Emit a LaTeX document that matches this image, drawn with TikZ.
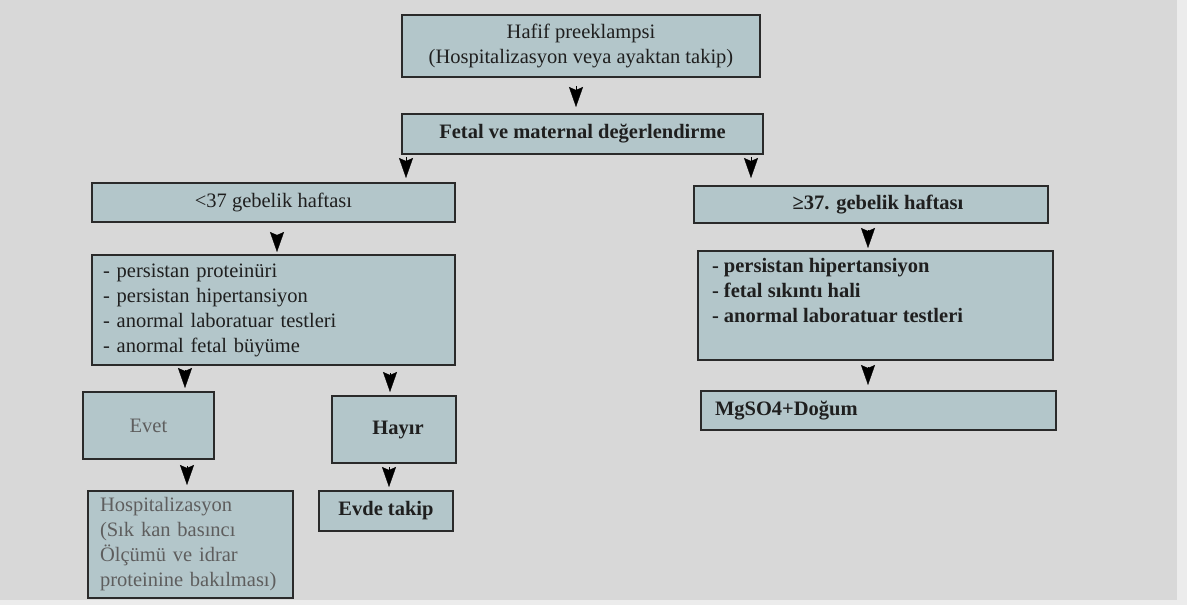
\documentclass[tikz,border=0pt]{standalone}
\usepackage{fontspec}
\setmainfont{Liberation Serif}
\usetikzlibrary{arrows.meta}
\definecolor{bg}{HTML}{D8D8D8}
\definecolor{edge}{HTML}{ECECEC}
\definecolor{boxfill}{HTML}{B3C6CA}
\definecolor{boxline}{HTML}{2A2A2A}
\definecolor{txt}{HTML}{1F1F1F}
\definecolor{softtxt}{HTML}{5E5E5E}
\begin{document}
\begin{tikzpicture}[x=1pt,y=-1pt,
  box/.style={draw=boxline, line width=1.8pt, fill=boxfill, inner sep=0pt, outer sep=0pt,
    text=txt, font=\fontsize{20.5}{25}\selectfont, anchor=north west, align=center},
  boldbox/.style={box, font=\fontsize{20.5}{25}\selectfont\bfseries},
  softbox/.style={box, text=softtxt},
  ah/.style={-{Stealth[length=20pt,width=14pt,inset=3pt]}, line width=0.3pt, draw=black, fill=black}]
\useasboundingbox (0,0) rectangle (1187,605);
\fill[edge] (0,0) rectangle (1187,605);
\fill[bg] (0,0) rectangle (1177,600);

% boxes
\node[box, minimum width=358pt, minimum height=62pt] (b1) at (402,15)
  {Hafif preeklampsi\\(Hospitalizasyon veya ayaktan takip)};
\node[boldbox, minimum width=361pt, minimum height=40pt] (b2) at (402,114)
  {Fetal ve maternal değerlendirme};
\node[box, minimum width=363pt, minimum height=39pt] (lt) at (92,183)
  {<37 gebelik haftası};
\node[boldbox, minimum width=354pt, minimum height=37pt] (rt) at (694,186)
  {\hspace*{14pt}≥37. gebelik haftası};
\node[box, minimum width=363pt, minimum height=110pt, text width=341pt, align=left] (ll) at (92,255)
  {- persistan proteinüri\\- persistan hipertansiyon\\- anormal laboratuar testleri\\- anormal fetal büyüme};
\node[boldbox, minimum width=355pt, minimum height=109pt, align=left] (rl) at (698,251)
  {\parbox[c][94pt][t]{327pt}{- persistan hipertansiyon\\- fetal sıkıntı hali\\- anormal laboratuar testleri}};
\node[boldbox, minimum width=355pt, minimum height=39pt, text width=327pt, align=left] (mg) at (701,391)
  {MgSO4+Doğum};
\node[softbox, minimum width=131pt, minimum height=67pt] (evet) at (83,392) {Evet};
\node[boldbox, minimum width=124pt, minimum height=67pt] (hayir) at (332,396) {\hspace*{8pt}Hayır};
\node[softbox, minimum width=205pt, minimum height=107pt, text width=181pt, align=left] (hosp) at (88,491)
  {Hospitalizasyon\\(Sık kan basıncı\\Ölçümü ve idrar\\proteinine bakılması)};
\node[boldbox, minimum width=134pt, minimum height=40pt] (evde) at (319,491) {Evde takip};

% arrow columns
\coordinate (x1) at (576,0);
\coordinate (x2) at (406,0);
\coordinate (x3) at (751,0);
\coordinate (x4) at (277,0);
\coordinate (x5) at (868,0);
\coordinate (x6) at (185,0);
\coordinate (x7) at (390,0);
\coordinate (x8) at (187,0);
\coordinate (x9) at (389,0);

% arrowheads
\draw[ah, shorten <=9pt, shorten >=7pt] (b1.south -| x1) -- (b2.north -| x1);
\draw[ah, shorten <=3pt, shorten >=5pt] (b2.south -| x2) -- (lt.north -| x2);
\draw[ah, shorten <=3pt, shorten >=8pt] (b2.south -| x3) -- (rt.north -| x3);
\draw[ah, shorten <=13pt, shorten >=3pt] (lt.south -| x4) -- (ll.north -| x4);
\draw[ah, shorten <=7pt, shorten >=3pt] (rt.south -| x5) -- (rl.north -| x5);
\draw[ah, shorten <=7pt, shorten >=6pt] (rl.south -| x5) -- (mg.north -| x5);
\draw[ah, shorten <=5pt, shorten >=4pt] (ll.south -| x6) -- (evet.north -| x6);
\draw[ah, shorten <=8pt, shorten >=4pt] (ll.south -| x7) -- (hayir.north -| x7);
\draw[ah, shorten <=7pt, shorten >=6pt] (evet.south -| x8) -- (hosp.north -| x8);
\draw[ah, shorten <=4pt, shorten >=4pt] (hayir.south -| x9) -- (evde.north -| x9);
\end{tikzpicture}
\end{document}
